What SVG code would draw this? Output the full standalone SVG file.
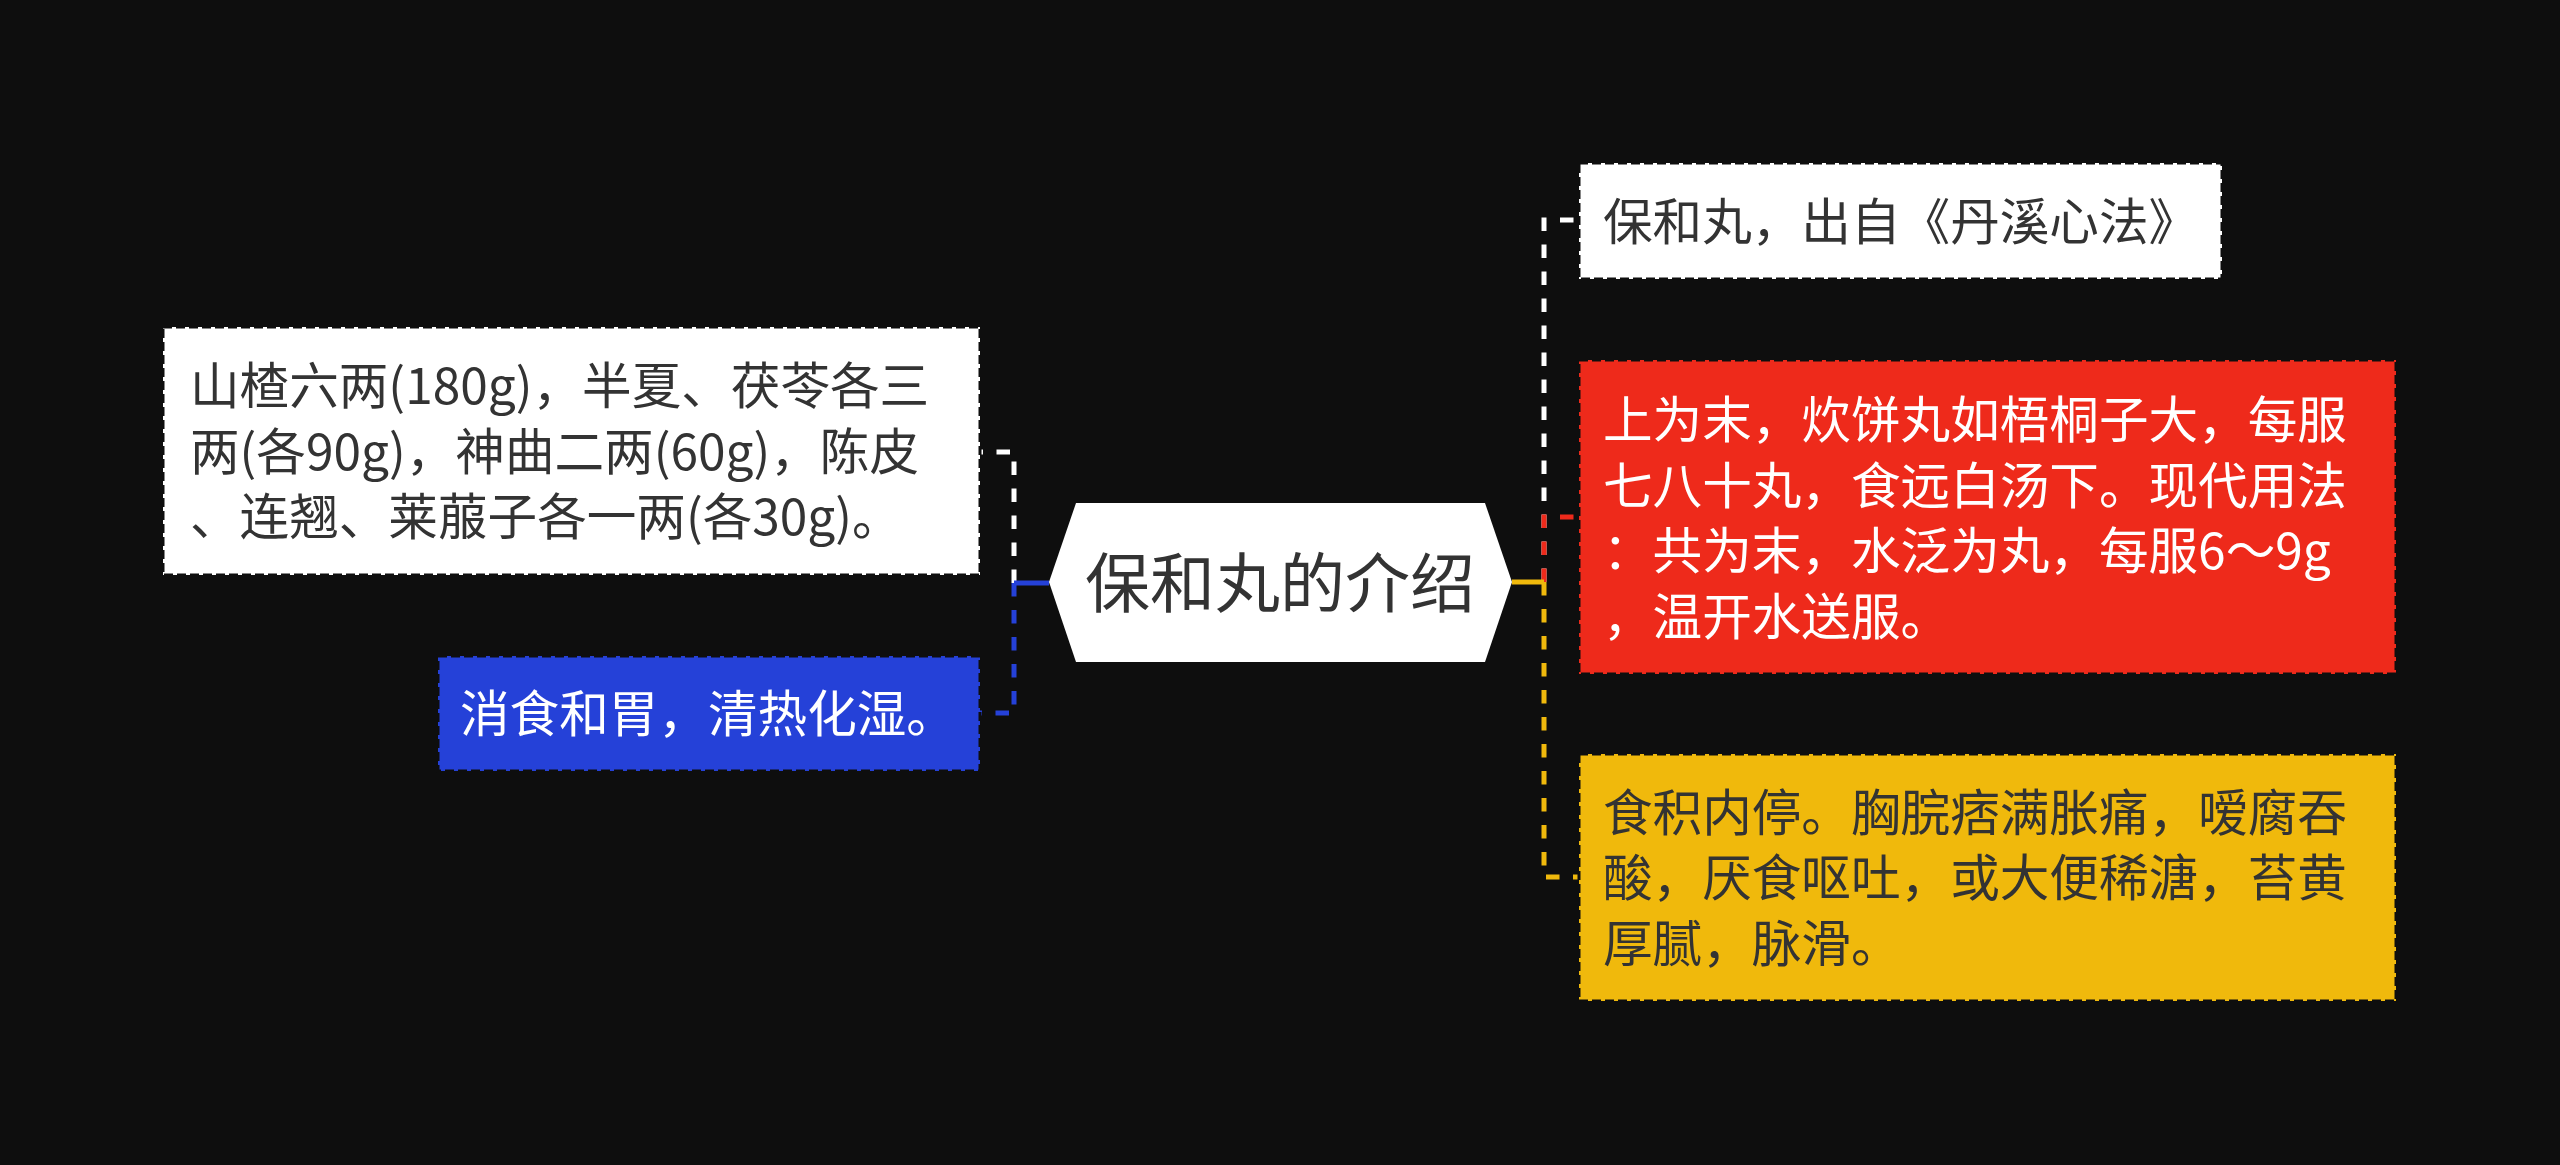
<svg xmlns="http://www.w3.org/2000/svg" width="2560" height="1165" viewBox="0 0 2560 1165">
<style>
.t{font-family:"Noto Sans CJK SC","Noto Sans",sans-serif;font-size:49.6px;}
.dk{fill:#333333;}
.wt{fill:#ffffff;}
.box{stroke:#0e0e0e;stroke-width:3;stroke-dasharray:9 4;}
.c{fill:none;stroke-width:5;stroke-dasharray:13.5 13.5;}
.s{fill:none;stroke-width:5;}
</style>
<rect x="0" y="0" width="2560" height="1165" fill="#0e0e0e"/>
<g id="connectors">
<path class="c" stroke="#ffffff" d="M1544,582 V220 H1579"/>
<path class="c" stroke="#ee2a1b" d="M1544,582 V517 H1579"/>
<path class="c" stroke="#f0b90c" d="M1544,582 V877 H1579"/>
<path class="s" stroke="#f0b90c" d="M1512,582 H1544"/>
<path class="c" stroke="#ffffff" d="M1014,583 V452 H980"/>
<path class="c" stroke="#2541d8" d="M1014,583 V713 H980"/>
<path class="s" stroke="#2541d8" d="M1049,583 H1014"/>
</g>
<g id="root">
<polygon points="1049,582 1076,503 1485,503 1512,582 1485,662 1076,662" fill="#ffffff"/>
<text class="t dk" x="1280" y="607" text-anchor="middle" style="font-size:65px">保和丸的介绍</text>
</g>
<g id="node-ingredients">
<rect class="box" x="163" y="327" width="817" height="248" fill="#ffffff"/>
<text class="t dk" x="190" y="404">山楂六两(180g)，半夏、茯苓各三</text>
<text class="t dk" x="190" y="470">两(各90g)，神曲二两(60g)，陈皮</text>
<text class="t dk" x="190" y="535">、连翘、莱菔子各一两(各30g)。</text>
</g>
<g id="node-effect">
<rect class="box" x="438" y="656" width="542" height="115" fill="#2541d8"/>
<text class="t wt" x="460" y="732">消食和胃，清热化湿。</text>
</g>
<g id="node-source">
<rect class="box" x="1579" y="163" width="643" height="116" fill="#ffffff"/>
<text class="t dk" x="1603" y="240">保和丸，出自《丹溪心法》</text>
</g>
<g id="node-usage">
<rect class="box" x="1579" y="360" width="817" height="314" fill="#ee2a1b"/>
<text class="t wt" x="1603" y="438">上为末，炊饼丸如梧桐子大，每服</text>
<text class="t wt" x="1603" y="504">七八十丸，食远白汤下。现代用法</text>
<text class="t wt" x="1603" y="569">：共为末，水泛为丸，每服6～9g</text>
<text class="t wt" x="1603" y="635">，温开水送服。</text>
</g>
<g id="node-indication">
<rect class="box" x="1579" y="754" width="817" height="247" fill="#f0b90c"/>
<text class="t dk" x="1603" y="831">食积内停。胸脘痞满胀痛，嗳腐吞</text>
<text class="t dk" x="1603" y="896">酸，厌食呕吐，或大便稀溏，苔黄</text>
<text class="t dk" x="1603" y="962">厚腻，脉滑。</text>
</g>
</svg>
